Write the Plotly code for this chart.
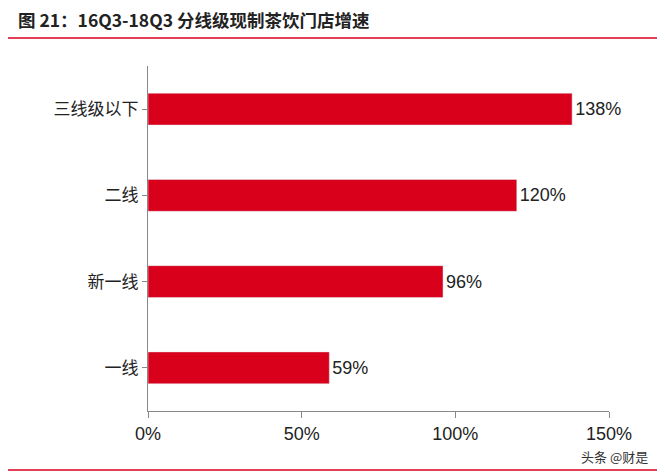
import plotly.graph_objects as go

categories = ['一线', '新一线', '二线', '三线级以下']
growth = [59, 96, 120, 138]
labels = ['59%', '96%', '120%', '138%']

font = 'Noto Sans CJK SC'
num_font = 'Liberation Sans'
red = '#d9001b'

fig = go.Figure(go.Bar(
    x=growth, y=categories, orientation='h',
    marker=dict(color=red), width=0.37,
    text=labels, textposition='outside', cliponaxis=False,
    textfont=dict(size=18, color='#222', family=num_font),
))

fig.update_layout(
    width=665, height=472,
    margin=dict(l=140, r=64, t=58, b=69),
    plot_bgcolor='white', paper_bgcolor='white',
    showlegend=False,
    font=dict(family=font, color='#222'),
    xaxis=dict(range=[0, 150], tickvals=[0, 50, 100, 150],
               ticktext=['0%', '50%', '100%', '150%'],
               showgrid=False, zeroline=False, showline=True,
               linecolor='#888', ticks='outside', ticklen=6, tickcolor='#888',
               tickfont=dict(size=18, family=num_font)),
    yaxis=dict(showgrid=False, showline=True, linecolor='#888',
               ticks='outside', ticklen=5, tickcolor='#888',
               tickfont=dict(size=17), range=[-0.5, 3.5]),
    shapes=[
        dict(type='line', xref='paper', yref='paper', x0=-0.31, x1=1.15,
             y0=1.081, y1=1.081, line=dict(color=red, width=1.5)),
        dict(type='line', xref='paper', yref='paper', x0=-0.31, x1=1.15,
             y0=-0.171, y1=-0.171, line=dict(color=red, width=1.5)),
    ],
    annotations=[
        dict(text='<b>图 21：16Q3-18Q3 分线级现制茶饮门店增速</b>',
             xref='paper', yref='paper', x=-0.287, y=1.092,
             xanchor='left', yanchor='bottom', showarrow=False,
             font=dict(size=17.5, color='#222')),
        dict(text='头条 @财是', xref='paper', yref='paper', x=1.09, y=-0.165,
             xanchor='right', yanchor='bottom', showarrow=False,
             font=dict(size=13, color='#333')),
    ],
)

fig.write_html('out.html')
